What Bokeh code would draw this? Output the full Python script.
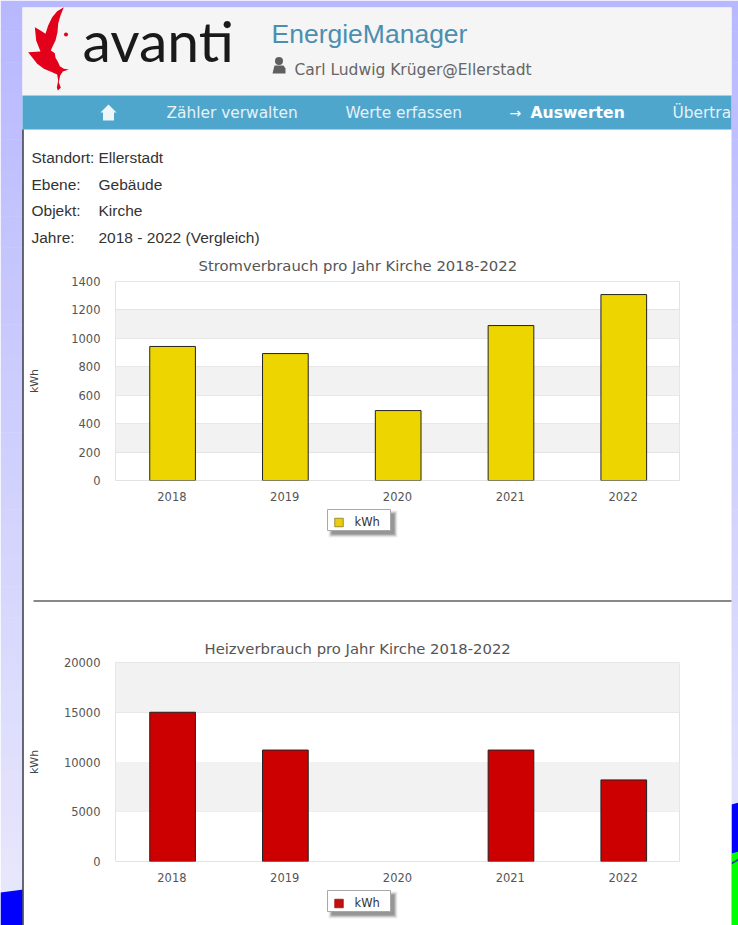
from bokeh.plotting import figure
from bokeh.models import Range1d, FactorRange, FixedTicker, BoxAnnotation, Title, NumeralTickFormatter
from bokeh.layouts import column
from bokeh.core.properties import value
from bokeh.transform import dodge
from bokeh.embed import file_html
from bokeh.resources import INLINE

years = ["2018", "2019", "2020", "2021", "2022"]
strom_kwh = [943, 893, 492, 1090, 1308]
heiz_kwh = [15000, 11200, float("nan"), 11200, 8200]
strom_ticks = [0, 200, 400, 600, 800, 1000, 1200, 1400]
heiz_ticks = [0, 5000, 10000, 15000, 20000]
strom_title = "Stromverbrauch pro Jahr Kirche 2018-2022"
heiz_title = "Heizverbrauch pro Jahr Kirche 2018-2022"
info_labels = ["Standort:", "Ebene:", "Objekt:", "Jahre:"]
info_values = ["Ellerstadt", "Gebäude", "Kirche", "2018 - 2022 (Vergleich)"]
nav_items = ["Zähler verwalten", "Werte erfassen", "Übertra"]
legend_label = "kWh"

W, H = 738, 925

# ---- page backdrop, header and texts (pixel space) ----
bg = figure(width=W, height=H, x_range=Range1d(0, W), y_range=Range1d(H, 0),
            output_backend="svg", toolbar_location=None, min_border=0,
            x_axis_location=None, y_axis_location=None, outline_line_color=None, frame_align=False)
bg.grid.visible = False
bg.margin = (0, 0, 0, 0)
bg.border_fill_color = "#ffffff"

def lerp(c1, c2, t):
    return "#%02x%02x%02x" % tuple(round(a + (b - a) * t) for a, b in zip(c1, c2))

TOP_C, BOT_C = (184, 184, 255), (232, 232, 252)
steps = 60
for i in range(steps):
    t = i / (steps - 1)
    y0 = H * i / steps
    y1 = H * (i + 1) / steps + 0.5
    bg.quad(left=0, right=W, top=y0, bottom=y1, fill_color=lerp(TOP_C, BOT_C, t), line_color=None)

bg.patch([0, 23, 23, 0], [892, 889, 925, 925], fill_color="#0000ff", line_color=None)
bg.patch([731, 738, 738, 731], [804, 802, 925, 925], fill_color="#0000ff", line_color=None)
bg.patch([731, 738, 738, 731], [853, 851, 925, 925], fill_color="#00ff00", line_color=None)
bg.patch([731, 738, 738, 731], [862, 858, 860, 864], fill_color="#1040a0", line_color=None)

bg.quad(left=22, right=731, top=7, bottom=925, fill_color="#ffffff", line_color=None)
bg.quad(left=22, right=731, top=7, bottom=95, fill_color="#f5f5f5", line_color=None)
bg.quad(left=22, right=731, top=95, bottom=129, fill_color="#4fa6cd", line_color=None)
bg.segment(x0=22.5, y0=129, x1=22.5, y1=925, line_color="#2a2a38", line_width=1.4)
bg.segment(x0=33, y0=600.5, x1=731, y1=600.5, line_color="#888888", line_width=2)

# flame logo
zx = [145, 135, 128, 126, 120, 110, 106, 118, 120, 128, 133, 145, 160, 142, 134, 130, 136, 127, 124, 128, 125, 110, 85, 65, 38, 75, 62, 58, 75, 90, 98, 110, 125]
zy = [20, 45, 70, 95, 120, 140, 150, 158, 172, 185, 197, 205, 207, 213, 225, 245, 262, 270, 262, 240, 222, 215, 205, 190, 155, 153, 120, 80, 90, 100, 75, 50, 32]
bg.patch([15 + v / 3 for v in zx], [v / 3 for v in zy], fill_color="#e2001a", line_color=None)
bg.scatter([65.5], [34], size=4, marker="circle", fill_color="#e2001a", line_color=None)

def label(x, y, s, size, color, font="Liberation Sans", style="normal", align="left"):
    bg.text([x], [y], text=[s], text_font=value(font), text_font_size=size, text_color=color,
            text_font_style=style, text_baseline="middle", text_align=align)

label(82, 39, "avanti", "57px", "#1a1a1a", font="Lato")
label(271, 33, "EnergieManager", "26.5px", "#4b8fb0", font="Liberation Sans")
label(294, 69, "Carl Ludwig Krüger@Ellerstadt", "15.5px", "#666666", font="DejaVu Sans")

# person icon
bg.scatter([278.5], [60.5], size=8, marker="circle", fill_color="#5f5f5f", line_color=None)
bg.patch([272, 274, 283, 285, 285, 272], [73, 65, 65, 68, 73, 73], fill_color="#5f5f5f", line_color=None)

# nav
bg.patch([100, 108, 116, 113.5, 113.5, 102.5, 102.5], [112, 104, 112, 112, 120, 120, 112], fill_color="#eef6fa", line_color=None)
label(166, 112, nav_items[0], "15.4px", "#e6f2f8", font="DejaVu Sans")
label(345, 112, nav_items[1], "15.4px", "#e6f2f8", font="DejaVu Sans")
label(509, 112, "→", "14px", "#ffffff", font="DejaVu Sans")
label(530, 112, "Auswerten", "15.6px", "#ffffff", font="DejaVu Sans", style="bold")
label(672, 112, nav_items[2], "15.4px", "#e6f2f8", font="DejaVu Sans")
# the backdrop strip cuts the last menu entry off at the page edge
bg.quad(left=731, right=738, top=95, bottom=129, fill_color=lerp(TOP_C, BOT_C, 112 / H), line_color=None)

# info block
for i, (a, b) in enumerate(zip(info_labels, info_values)):
    yy = 157 + i * 26.6
    label(31, yy, a, "15.5px", "#333333")
    label(98, yy, b, "15.5px", "#333333")

# hand-drawn chart legends (box with soft shadow, swatch, text)
for top, col in ((509, "#e6cf10"), (890, "#c01010")):
    for k, alpha in ((3, 0.06), (2, 0.10), (1, 0.14), (0, 0.18)):
        bg.quad(left=331 - k, right=394 + k, top=top + 4 - k, bottom=top + 25 + k,
                fill_color="#000000", fill_alpha=alpha, line_color=None)
    bg.quad(left=327, right=390, top=top, bottom=top + 21, fill_color="#ffffff", line_color="#a8a8a8", line_width=1)
    bg.scatter([338.5], [top + 13], size=8.5, marker="square", fill_color=col, line_color="#8a7a20" if top == 509 else "#a01010", line_width=0.8)
    label(354, top + 12, legend_label, "11.5px", "#333333", font="DejaVu Sans")

# ---- charts ----
def chart(values, ticks, title, color, frame_top, frame_bottom, label_standoff, title_offset, title_standoff):
    p = figure(width=W, height=H, x_range=FactorRange(factors=years, range_padding=0),
               y_range=Range1d(ticks[0], ticks[-1]), output_backend="svg", toolbar_location=None,
               min_border_left=115, min_border_right=W - 679, frame_align=False,
               min_border_top=frame_top, min_border_bottom=H - frame_bottom)
    p.margin = (-H, 0, 0, 0)
    p.background_fill_alpha = 0
    p.border_fill_alpha = 0
    p.outline_line_color = "#e2e2e2"
    p.outline_line_width = 1

    step = ticks[1] - ticks[0]
    for lo in ticks[1::2]:
        p.add_layout(BoxAnnotation(bottom=lo, top=lo + step, fill_color="#f2f2f2", fill_alpha=1,
                                   line_color=None, level="underlay"))
    p.xgrid.visible = False
    p.ygrid.grid_line_color = "#e4e4e4"
    p.ygrid.ticker = FixedTicker(ticks=ticks)
    p.yaxis.ticker = FixedTicker(ticks=ticks)
    p.yaxis.formatter = NumeralTickFormatter(format="0")

    for ax in (p.xaxis[0], p.yaxis[0]):
        ax.axis_line_color = None
        ax.major_tick_line_color = None
        ax.minor_tick_line_color = None
        ax.major_label_text_font = "DejaVu Sans"
        ax.major_label_text_font_size = "11.5px"
        ax.major_label_text_color = "#555555"
    p.xaxis.major_label_standoff = 5
    p.yaxis.major_label_standoff = 9
    p.yaxis.axis_label = "kWh"
    p.yaxis.axis_label_text_font = "DejaVu Sans"
    p.yaxis.axis_label_text_font_size = "11px"
    p.yaxis.axis_label_text_font_style = "normal"
    p.yaxis.axis_label_text_color = "#444444"
    p.yaxis.axis_label_standoff = label_standoff

    p.add_layout(Title(text=title, align="left", offset=title_offset, text_font="DejaVu Sans",
                       text_font_size="14.8px", text_font_style="normal", text_color="#555555",
                       standoff=title_standoff), "above")

    p.vbar(x=dodge("x", 0.006, range=p.x_range), top="y", bottom=0, width=0.405,
           source={"x": years, "y": values}, fill_color=color, line_color="#222222", line_width=1)
    return p

c1 = chart(strom_kwh, strom_ticks, strom_title, "#edd600", 281, 480, 27, 83, 15)
c2 = chart(heiz_kwh, heiz_ticks, heiz_title, "#cc0000", 662, 861, 20, 89, 12)

root = column(bg, c1, c2)
open("out.html", "w").write(file_html(root, INLINE))
